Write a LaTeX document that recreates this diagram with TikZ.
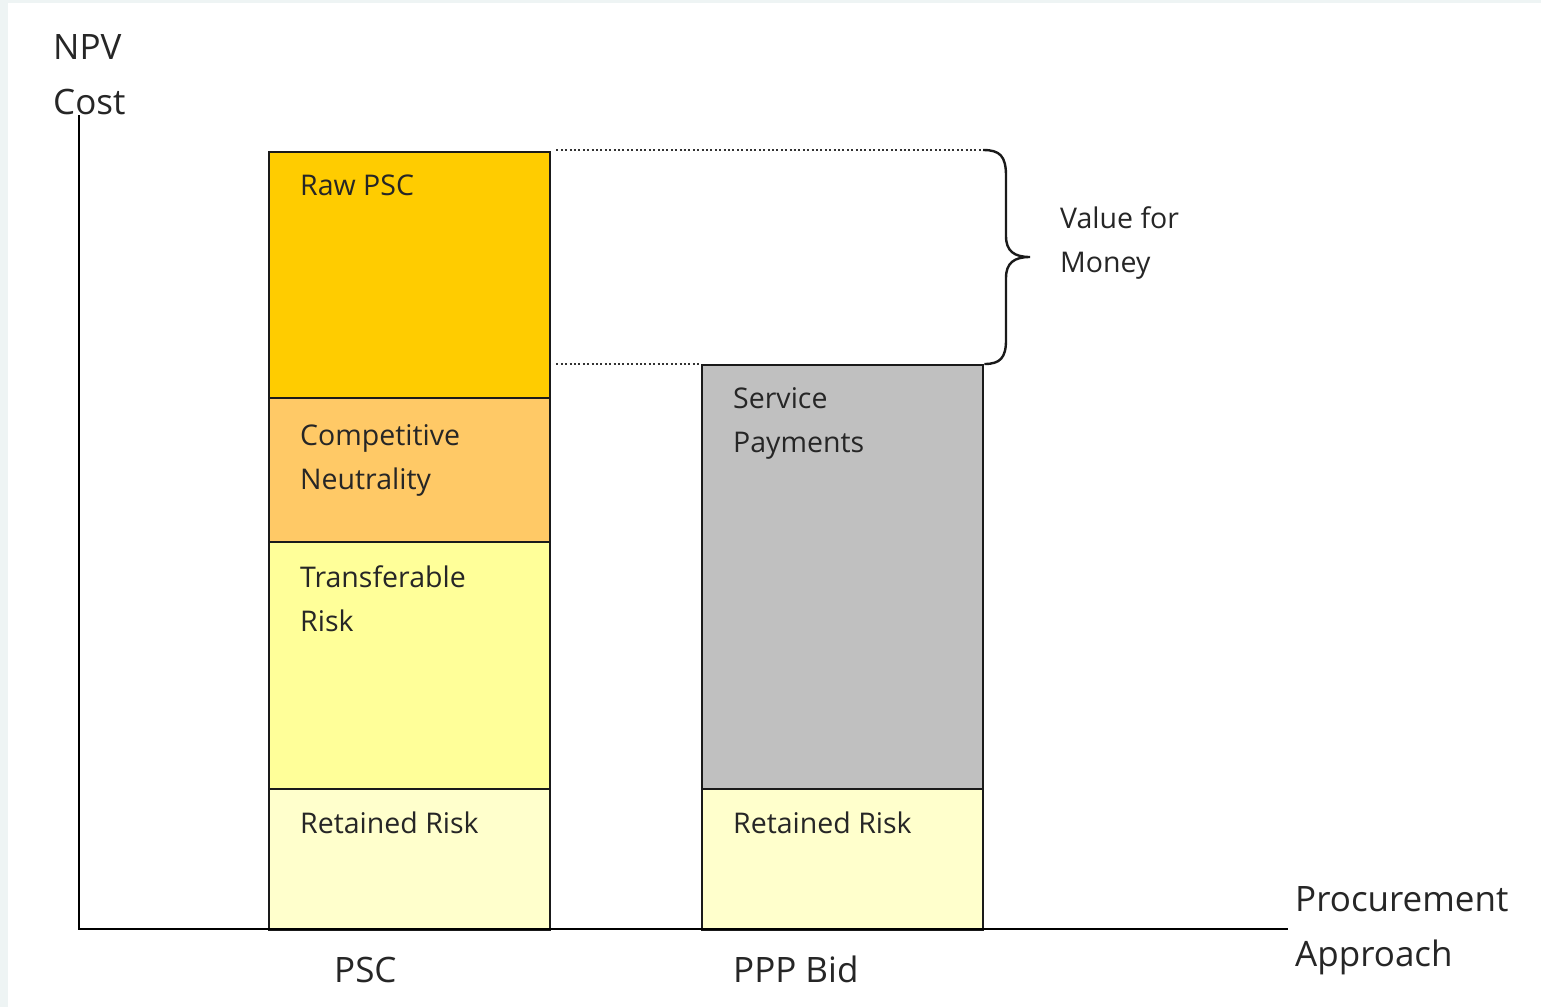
\documentclass[tikz,border=0pt]{standalone}
\usepackage{fontspec}
\setmainfont{Open Sans}
\usetikzlibrary{calc}
\definecolor{edge}{HTML}{1A1A1A}
\definecolor{txt}{HTML}{262626}
\definecolor{rawpsc}{HTML}{FFCC00}
\definecolor{compneut}{HTML}{FFC966}
\definecolor{transrisk}{HTML}{FFFF99}
\definecolor{retrisk}{HTML}{FFFFCC}
\definecolor{service}{HTML}{C0C0C0}
\definecolor{frame}{HTML}{EEF4F4}
\begin{document}
\begin{tikzpicture}[x=1pt,y=-1pt,
  block/.style={draw=edge, line width=2.4pt, inner sep=0pt, anchor=north west,
                minimum width=281pt},
  % multi-line labels are placed by the baseline of their last line
  boxlabel/.style={anchor=base west, inner sep=0pt, align=left, text=txt,
                   font=\fontsize{28.5}{44}\selectfont},
  axislabel/.style={anchor=base west, inner sep=0pt, align=left, text=txt,
                    font=\fontsize{35}{55}\selectfont},
  axisline/.style={draw=black, line width=2.6pt},
  guide/.style={draw=black!80, line width=2pt, dash pattern=on 2pt off 2.4pt},
  bracepath/.style={draw=edge, line width=2.4pt}]
  % page and its thin outer frame
  \fill[frame] (0,0) rectangle (1541,1007);
  \fill[white] (8,3) rectangle (1541,1007);
  \useasboundingbox (0,0) rectangle (1541,1007);

  % PSC stack
  \node[block, fill=rawpsc,    minimum height=246pt] (raw)  at (268,151) {};
  \node[block, fill=compneut,  minimum height=144pt] (cn)   at (268,397) {};
  \node[block, fill=transrisk, minimum height=247pt] (tr)   at (268,541) {};
  \node[block, fill=retrisk,   minimum height=141pt] (rr1)  at (268,788) {};

  % PPP bid stack
  \node[block, fill=service,   minimum height=424pt] (svc)  at (701,364) {};
  \node[block, fill=retrisk,   minimum height=141pt] (rr2)  at (701,788) {};

  % axes
  \coordinate (origin) at (79,929);
  \coordinate (ytop) at (79,115);
  \coordinate (xend) at (1288,929);
  \draw[axisline] (ytop) -- (origin) -- (xend);

  % guides to the brace
  \coordinate (brtop) at (983,150);
  \coordinate (brtip) at (1030,257);
  \draw[guide] ($(raw.north east)+(5,-1)$) -- (brtop);
  \draw[guide] ($(raw.east |- svc.north)+(5,0)$) -- (svc.north west);

  % brace spanning the gap
  \draw[bracepath] (brtop) .. controls (1000,150) and (1006,156) .. (1006,176)
      -- (1006,236) .. controls (1006,251) and (1014,257) .. (brtip)
      .. controls (1014,257) and (1006,263) .. (1006,278)
      -- (1006,340) .. controls (1006,358) and (1000,364) .. (svc.north east);

  % labels inside the blocks
  \node[boxlabel] (lraw) at (300,195) {Raw PSC};
  \node[boxlabel] (lcn)  at (300,489) {Competitive\\Neutrality};
  \node[boxlabel] (ltr)  at (300,631) {Transferable\\Risk};
  \node[boxlabel] (lrr1) at (300,833) {Retained Risk};
  \node[boxlabel] (lsvc) at (733,452) {Service\\Payments};
  \node[boxlabel] (lrr2) at (733,833) {Retained Risk};
  \node[boxlabel] (lvfm) at (1060,272) {Value for\\Money};

  % axis labels
  \node[axislabel] (ylab) at (53,114) {NPV\\Cost};
  \node[axislabel] (xlab) at (1295,966) {Procurement\\Approach};
  \node[axislabel] (lpsc) at (334,982) {PSC};
  \node[axislabel] (lppp) at (733,982) {PPP Bid};
\end{tikzpicture}
\end{document}
